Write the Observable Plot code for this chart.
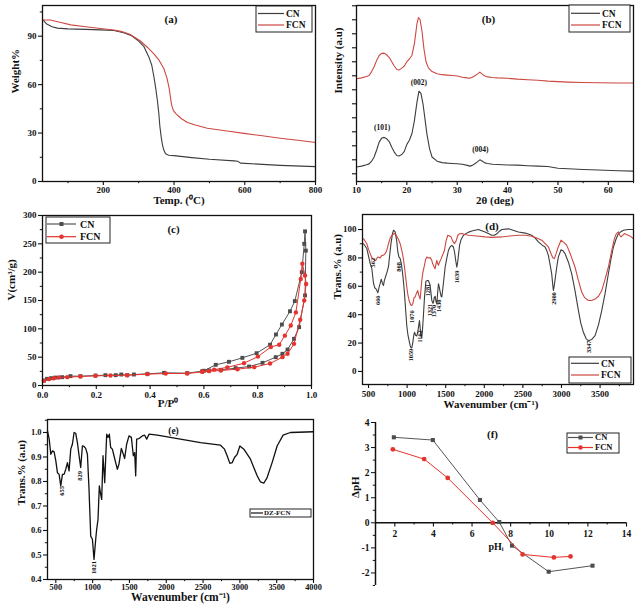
<!DOCTYPE html>
<html><head><meta charset="utf-8">
<script src="https://cdn.jsdelivr.net/npm/d3@7"></script>
<script src="https://cdn.jsdelivr.net/npm/@observablehq/plot@0.6"></script>
<style>
body{margin:0;background:#fff;}
#fig{position:relative;width:637px;height:606px;overflow:hidden;background:#fff;}
</style></head><body><div id="fig"></div>
<script>
const FONT = '"Liberation Serif","Times New Roman",serif';
const CN_LINE = "#3d3d3d", FCN_LINE = "#cc4842";
const CN_MARK = "#4d4d4d", FCN_MARK = "#e5332e";

// ---------- (a) TGA ----------
const tgaTempCN = [30,40,55,70,100,150,192,230,260,280,300,315,329,337,343,348,353,357,360,364,367,371,376,385,400,450,500,570,580,588,650,700,800];
const tgaWeightCN = [100,97.5,95.8,95,94.5,94.2,93.9,93.5,92,90.2,87,83.5,77,72,65,58,50,42,34,27,23,19.5,17.2,16.3,16,14.8,13.8,12.8,12.5,11.4,10.6,10,9.2];
const tgaTempFCN = [30,50,80,108,150,192,230,250,275,305,325,343,358,371,380,386,390,393,398,405,420,438,460,494,550,598,650,700,750,800];
const tgaWeightFCN = [100,100,98.5,97,95.8,94.8,93.8,93,91.2,87,83,79,75,70,64,58,52,47.5,44,42,39,36.5,35,33,31.3,29.8,28.3,26.8,25.5,24.2];
const aXTicks = [200,400,600,800];
const aYTicks = [0,30,60,90];

// ---------- (b) XRD ----------
const xrdAngleCN = [10,11,12,12.5,13,13.5,14,14.5,15,15.5,16,16.5,17,17.5,18,18.5,19,19.5,20,20.5,21,21.5,22,22.4,22.8,23.2,23.6,24,24.5,25,26,27,28,29,30,31,32,32.5,33,33.5,34,34.5,35,35.5,36,37,38,40,42,44,46,48,50,52,55,58,62,65];
const xrdIntCN = [0.48,0.55,0.65,0.71,0.9,1.2,1.7,2.26,2.55,2.6,2.5,2.3,1.9,1.55,1.31,1.28,1.38,1.6,2.1,2.4,2.86,3.8,5.1,5.9,5.75,5.0,3.9,2.8,1.8,1.2,0.9,0.8,0.76,0.74,0.72,0.68,0.6,0.55,0.6,0.72,0.85,1.0,0.9,0.78,0.74,0.68,0.66,0.63,0.62,0.58,0.55,0.52,0.4,0.36,0.31,0.27,0.22,0.19];
const xrdAngleFCN = [10,11,12,12.5,13,13.5,14,14.5,15,15.5,16,16.5,17,17.5,18,18.5,19,19.5,20,20.5,21,21.5,22,22.3,22.6,23,23.4,23.8,24.3,25,26,27,28,29,30,31,32,32.5,33,33.5,34,34.5,35,35.5,36,37,38,40,42,44,46,48,50,52,55,58,62,65];
const xrdIntFCN = [6.79,6.85,6.95,7.02,7.3,7.65,8.1,8.45,8.6,8.62,8.5,8.3,8.0,7.7,7.45,7.42,7.55,7.7,8.0,8.2,8.45,9.3,10.7,11.15,11.05,10.2,8.9,8.0,7.55,7.3,7.15,7.08,7.05,7.02,6.98,6.9,6.85,6.83,6.9,7.0,7.12,7.26,7.1,6.98,6.92,6.88,6.85,6.82,6.76,6.72,6.68,6.62,6.58,6.55,6.52,6.5,6.49,6.48];
const xrdPeakLabels = ["(101)","(002)","(004)"];
const xrdPeakAngle = [15.1,22.4,34.6];
const xrdPeakInt = [2.98,6.2,1.43];
const bXTicks = [10,20,30,40,50,60];

// ---------- (c) BET ----------
const betPCN = [0.005,0.017,0.032,0.048,0.073,0.104,0.141,0.197,0.234,0.272,0.293,0.315,0.34,0.39,0.452,0.538,0.594,0.619,0.663,0.718,0.768,0.818,0.867,0.892,0.911,0.935,0.954,0.976,0.979,0.976,0.973,0.964,0.938,0.92,0.89,0.868,0.846,0.796,0.743,0.693,0.644,0.6];
const betVCN = [8.8,11.8,12.9,14,14.7,16.5,16.5,17.6,18.2,18.2,19.4,18.2,19.4,20.6,22.4,21.8,25.3,26.5,27.6,30.6,33.5,40,50,55.9,63.5,82.4,103,159,238,272,250,200,149,131,107.6,90,72,57,48.8,41.8,36.5,26];
const betPFCN = [0.005,0.024,0.042,0.061,0.092,0.141,0.197,0.253,0.315,0.39,0.458,0.538,0.594,0.619,0.663,0.725,0.787,0.846,0.892,0.911,0.935,0.958,0.973,0.98,0.976,0.966,0.96,0.942,0.923,0.901,0.88,0.849,0.801,0.749,0.687,0.638,0.594];
const betVFCN = [8.2,11.2,12.9,14.1,14.7,15.9,17,17.6,18.2,20,21.2,21.2,24,25.3,26.5,28.8,32.4,38.8,50,56,73.5,116,150,179,194,215,188,129,106,88,72,68,51,39.4,32,28,25];
const cXTicks = [0,0.2,0.4,0.6,0.8,1.0];
const cYTicks = [0,50,100,150,200,250,300];

// ---------- (d) FTIR ----------
const ftirWaveCN = [435,478,522,543,565,580,600,621,640,651,665,680,694,705,716,740,759,780,793,810,824,845,865,880,895,910,925,940,955,966,980,996,1010,1026,1040,1052,1062,1074,1085,1096,1110,1126,1138,1147,1160,1170,1180,1190,1200,1212,1225,1243,1260,1277,1298,1310,1320,1335,1342,1352,1363,1375,1385,1395,1406,1418,1428,1440,1450,1470,1493,1515,1536,1560,1579,1600,1615,1630,1644,1655,1665,1680,1700,1730,1790,1838,1924,2010,2060,2097,2130,2162,2200,2226,2313,2442,2530,2615,2660,2701,2750,2787,2810,2830,2850,2873,2885,2895,2905,2915,2925,2945,2960,2994,3020,3046,3090,3132,3175,3219,3250,3284,3320,3349,3390,3435,3480,3522,3565,3608,3640,3673,3705,3737,3770,3802,3860,3931];
const ftirTransCN = [90,86.6,76,72.4,62,59,58,55.5,60,62,65,62,60.6,64,66,70,74,85,91,97,99.5,98.3,92,84,80.5,79.5,76,70,62,55,44,32,26,21.7,18,16.5,17,20.5,25,27.6,25.5,25,28,31,35.8,30,25,24,30,40,52,63.5,64,64,60.6,55,50,48,48.8,52,53,49,47.6,55,61.8,59,56,53,52.5,62,73.6,80,85.4,88,88.9,87.7,84,78,73.5,77,82,89,93,96,98,99,100,98.3,97,96,96,97,99,100,100.5,98.3,97.5,96,94,91.3,89,87.7,85,81.8,76,68.9,62,57,60,64,68,76,80.7,85.8,85,83,77,69,57,43,34,27.6,23,21.7,22.5,25.2,33,43,55,69,79,87.7,93,97,98.5,99.5,100,100];
const ftirWaveFCN = [435,478,500,522,545,565,580,595,610,625,650,673,695,716,740,759,780,802,837,860,888,910,931,950,966,980,996,1010,1026,1045,1061,1075,1090,1104,1120,1138,1150,1169,1180,1190,1205,1225,1240,1256,1275,1298,1320,1330,1342,1355,1363,1375,1385,1395,1406,1420,1441,1460,1484,1505,1527,1550,1570,1590,1613,1635,1657,1680,1709,1750,1795,1900,2010,2100,2226,2330,2442,2530,2615,2680,2744,2790,2830,2850,2873,2890,2908,2930,2951,2994,3030,3067,3120,3175,3220,3262,3300,3349,3390,3435,3480,3522,3565,3608,3650,3686,3710,3737,3755,3772,3795,3815,3840,3867,3900,3931];
const ftirTransFCN = [93.6,90,86,83,80,79.5,78,78.3,80,80.7,80,81.8,82,83,86,90,94,96,97.2,96,93,90,85.4,80,73.6,67,59.4,54,50,47,46.5,48,52,52.4,55,57,54,51,58,64,70,75,79,80.7,80,80.2,78.3,76,74.8,73,72.4,76,78.3,76,74.8,77,79.5,82,85.4,92,96,95.5,94.8,92,90,92,96,97,97.2,96.5,96,95.5,94.8,94.5,94.8,95.5,96,96,95.3,94,92.5,90,87.7,85,81.8,80,79.5,83,86.6,92.5,91,89,82,73.6,64,56,52,50,50,51,53,57,65,73.6,85,93.6,97,98.3,96,94.8,96,97.2,96.5,96,95,93.6];
const ftirPeakLabels = ["562","666","808","1059","1076","1162","1281","1321","1370","1430","1639","2900","3347"];
const ftirPeakWave = [560,620,893,1044,1060,1165,1273,1293,1352,1416,1649,2900,3353];
const ftirPeakTrans = [80,53.5,77,16,43,29,61.8,47.7,47,50.7,71,55.8,21.8];
const dXTicks = [500,1000,1500,2000,2500,3000,3500];
const dYTicks = [0,20,40,60,80,100];

// ---------- (e) FTIR DZ-FCN ----------
const dzWave = [387,410,432,455,477,500,522,545,567,590,612,635,658,680,703,725,748,770,793,816,838,861,883,906,929,951,974,997,1019,1042,1055,1073,1091,1109,1123,1141,1164,1191,1209,1227,1245,1268,1290,1313,1336,1358,1390,1417,1435,1462,1494,1526,1553,1571,1585,1598,1630,1675,1707,1734,1766,1879,2466,2737,2791,2827,2864,2896,2927,2963,3000,3054,3144,3235,3280,3325,3370,3438,3506,3587,3686,4000];
const dzTrans = [1.007,0.973,0.911,0.925,0.921,0.884,0.836,0.829,0.782,0.829,0.829,0.85,0.877,0.843,0.932,0.952,1.0,0.997,0.959,0.905,0.857,0.945,0.943,0.935,0.911,0.768,0.577,0.564,0.482,0.564,0.605,0.645,0.782,0.748,0.727,0.905,0.795,0.993,0.98,0.993,0.939,0.932,0.905,0.877,0.85,0.871,0.935,0.911,0.894,0.952,0.986,0.98,0.905,0.918,0.823,0.973,0.975,0.986,0.989,0.973,0.993,0.989,0.959,0.948,0.932,0.905,0.874,0.877,0.898,0.911,0.945,0.932,0.891,0.823,0.798,0.793,0.816,0.877,0.945,0.989,1.0,1.003];
const dzPeakLabels = ["655","829","1021"];
const dzPeakWave = [577,829,1019];
const dzPeakTrans = [0.782,0.843,0.475];
const eXTicks = [500,1000,1500,2000,2500,3000,3500,4000];
const eYTicks = [0.4,0.5,0.6,0.7,0.8,0.9,1.0];

// ---------- (f) pHpzc ----------
const pzcPhiCN = [1.95,3.97,6.41,7.41,8.07,9.97,12.24];
const pzcDeltaCN = [3.41,3.30,0.91,0.03,-0.91,-1.95,-1.71];
const pzcPhiFCN = [1.9,3.52,4.74,7.07,8.62,10.24,11.1];
const pzcDeltaFCN = [2.93,2.54,1.79,0,-1.26,-1.38,-1.34];
const fXTicks = [2,4,6,8,10,12,14];
const fYTicks = [-2,-1,0,1,2,3,4];

// ---------- helpers ----------
const pts = (xs, ys) => xs.map((x, i) => ({x, y: ys[i]}));
const fig = document.getElementById("fig");
function place(el, left, top) {
  el.style.position = "absolute"; el.style.left = left + "px"; el.style.top = top + "px";
  el.style.overflow = "visible"; fig.appendChild(el);
}
const style = {fontFamily: FONT, fontSize: "9px", fontWeight: "bold", color: "#111", background: "transparent", overflow: "visible"};
const minorOf = (lo, hi, step) => d3.range(lo, hi + step / 2, step);
const plain = d => String(d);
function boxAxes({xMaj, xMin, yMaj, yMin, xFmt = plain, yFmt = plain, yText = true, xFont = 9, yFont = 9, xPad = 2}) {
  return [
    Plot.axisX({ticks: xMaj, tickSize: 4, tickPadding: xPad, tickFormat: xFmt, label: null, fontSize: xFont, strokeWidth: 1.1}),
    Plot.axisX({ticks: xMin, tickSize: 2.2, tickFormat: () => "", label: null}),
    Plot.axisY({ticks: yMaj, tickSize: 4, tickPadding: 2, tickFormat: yText ? yFmt : () => "", label: null, fontSize: yFont, strokeWidth: 1.1}),
    Plot.axisY({ticks: yMin, tickSize: 2.2, tickFormat: () => "", label: null})
  ];
}
const frame = () => Plot.frame({stroke: "#111", strokeWidth: 1.3});
const label = (txt, o) => Plot.text([txt], {text: d => d, fontWeight: "bold", fill: "#111", fontFamily: FONT, ...o});
function legend(box, items, o) {
  return () => {
    const g = d3.create("svg:g").attr("font-family", FONT).attr("text-anchor", "start");
    g.append("rect").attr("x", box.x).attr("y", box.y).attr("width", box.w).attr("height", box.h)
      .attr("fill", "#fff").attr("stroke", "#222").attr("stroke-width", 1);
    items.forEach((it, i) => {
      const y = box.y + o.rows[i];
      g.append("line").attr("x1", box.x + o.l1).attr("x2", box.x + o.l2).attr("y1", y).attr("y2", y)
        .attr("stroke", it.color).attr("stroke-width", 1.2);
      const cx = box.x + (o.l1 + o.l2) / 2;
      if (it.symbol === "square") g.append("rect").attr("x", cx - 2).attr("y", y - 2).attr("width", 4).attr("height", 4).attr("fill", it.mark);
      if (it.symbol === "circle") g.append("circle").attr("cx", cx).attr("cy", y).attr("r", 2.3).attr("fill", it.mark);
      g.append("text").attr("x", box.x + o.tx).attr("y", y).attr("dy", "0.35em").attr("font-size", o.fs)
        .attr("text-anchor", "start").attr("font-weight", "bold").attr("fill", "#111").text(it.label);
    });
    return g.node();
  };
}

// ---------- (a) ----------
place(Plot.plot({
  width: 318, height: 200, marginLeft: 42, marginRight: 3, marginTop: 5, marginBottom: 19, style,
  x: {domain: [28, 800]}, y: {domain: [0, 109]},
  marks: [
    ...boxAxes({xMaj: aXTicks, xMin: minorOf(100, 700, 200), yMaj: aYTicks, yMin: minorOf(15, 105, 30), xPad: 1}),
    Plot.line(pts(tgaTempCN, tgaWeightCN), {x: "x", y: "y", stroke: CN_LINE, strokeWidth: 1.1}),
    Plot.line(pts(tgaTempFCN, tgaWeightFCN), {x: "x", y: "y", stroke: FCN_LINE, strokeWidth: 1.1}),
    frame(),
    label("(a)", {frameAnchor: "top", dx: -8, dy: 10, fontSize: 11}),
    label("Weight%", {frameAnchor: "left", dx: -27, rotate: -90, fontSize: 11}),
    label("Temp. (⁰C)", {frameAnchor: "bottom", dy: 22.5, fontSize: 11}),
    legend({x: 256, y: 6, w: 56, h: 26}, [{label: "CN", color: CN_LINE}, {label: "FCN", color: FCN_LINE}], {rows: [7.5, 19], l1: 2, l2: 28, tx: 30, fs: 9.5})
  ]
}), 0, 0);

// ---------- (b) ----------
place(Plot.plot({
  width: 319, height: 200, marginLeft: 38, marginRight: 4, marginTop: 5, marginBottom: 19, style,
  x: {domain: [10, 65]}, y: {domain: [-0.55, 12.02]},
  marks: [
    ...boxAxes({xMaj: bXTicks, xMin: minorOf(15, 65, 10), yMaj: d3.range(0, 13), yMin: [], yText: false, xPad: 1}),
    Plot.line(pts(xrdAngleCN, xrdIntCN), {x: "x", y: "y", stroke: CN_LINE, strokeWidth: 1.1}),
    Plot.line(pts(xrdAngleFCN, xrdIntFCN), {x: "x", y: "y", stroke: FCN_LINE, strokeWidth: 1.1}),
    Plot.text(xrdPeakLabels, {x: (d, i) => xrdPeakAngle[i], y: (d, i) => xrdPeakInt[i], text: d => d, fontSize: 7.5, fontWeight: "bold", fill: "#111", dy: -4}),
    frame(),
    label("(b)", {frameAnchor: "top", dx: -6.5, dy: 10, fontSize: 11}),
    label("Intensity (a.u)", {frameAnchor: "left", dx: -18, rotate: -90, fontSize: 11}),
    label("2θ (deg)", {frameAnchor: "bottom", dy: 22.5, fontSize: 11}),
    legend({x: 251, y: 5, w: 61, h: 27}, [{label: "CN", color: CN_LINE}, {label: "FCN", color: FCN_LINE}], {rows: [8.3, 20], l1: 2, l2: 31, tx: 33, fs: 9.5})
  ]
}), 318, 0);

// ---------- (c) ----------
place(Plot.plot({
  width: 318, height: 210, marginLeft: 42, marginRight: 7, marginTop: 15, marginBottom: 25, style,
  x: {domain: [0, 1]}, y: {domain: [0, 300]},
  marks: [
    ...boxAxes({xMaj: cXTicks, xMin: minorOf(0.1, 0.9, 0.2), yMaj: cYTicks, yMin: minorOf(25, 275, 50), xFmt: d3.format(".1f")}),
    Plot.line(pts(betPCN, betVCN), {x: "x", y: "y", stroke: "#555", strokeWidth: 1}),
    Plot.dot(pts(betPCN, betVCN), {x: "x", y: "y", symbol: "square", r: 2.2, fill: CN_MARK}),
    Plot.line(pts(betPFCN, betVFCN), {x: "x", y: "y", stroke: FCN_MARK, strokeWidth: 1}),
    Plot.dot(pts(betPFCN, betVFCN), {x: "x", y: "y", r: 2.2, fill: FCN_MARK}),
    frame(),
    label("(c)", {frameAnchor: "top", dx: -3.5, dy: 10, fontSize: 11}),
    label("V(cm³/g)", {frameAnchor: "left", dx: -31, rotate: -90, fontSize: 11}),
    label("P/P⁰", {frameAnchor: "bottom", dx: -9, dy: 21, fontSize: 11}),
    legend({x: 46, y: 17, w: 64, h: 26}, [{label: "CN", color: "#555", symbol: "square", mark: CN_MARK}, {label: "FCN", color: FCN_MARK, symbol: "circle", mark: FCN_MARK}], {rows: [7, 19.7], l1: 1, l2: 30, tx: 34, fs: 10})
  ]
}), 0, 200);

// ---------- (d) ----------
place(Plot.plot({
  width: 319, height: 210, marginLeft: 44, marginRight: 4, marginTop: 14, marginBottom: 26, style,
  x: {domain: [422, 3933]}, y: {domain: [-9.2, 110.6]},
  marks: [
    ...boxAxes({xMaj: dXTicks, xMin: minorOf(750, 3750, 500), yMaj: dYTicks, yMin: minorOf(10, 90, 20)}),
    Plot.line(pts(ftirWaveCN, ftirTransCN), {x: "x", y: "y", stroke: CN_LINE, strokeWidth: 1.1}),
    Plot.line(pts(ftirWaveFCN, ftirTransFCN), {x: "x", y: "y", stroke: FCN_LINE, strokeWidth: 1.1}),
    Plot.text(ftirPeakLabels, {x: (d, i) => ftirPeakWave[i], y: (d, i) => ftirPeakTrans[i], text: d => d, rotate: -90, textAnchor: "end", fontSize: 6.3, fontWeight: "bold", fill: "#111"}),
    frame(),
    label("(d)", {frameAnchor: "top", dx: -6, dy: 8, fontSize: 11}),
    label("Trans.% (a.u)", {frameAnchor: "left", dx: -25, rotate: -90, fontSize: 11}),
    label("Wavenumber (cm⁻¹)", {frameAnchor: "bottom", dx: -7, dy: 23, fontSize: 11}),
    legend({x: 251, y: 157, w: 62, h: 26}, [{label: "CN", color: CN_LINE}, {label: "FCN", color: FCN_LINE}], {rows: [6.3, 18], l1: 2, l2: 30, tx: 32, fs: 9.5})
  ]
}), 318, 200);

// ---------- (e) ----------
place(Plot.plot({
  width: 318, height: 196, marginLeft: 47, marginRight: 5, marginTop: 9, marginBottom: 27, style,
  x: {domain: [387, 4000]}, y: {domain: [0.4, 1.053]},
  marks: [
    ...boxAxes({xMaj: eXTicks, xMin: minorOf(750, 3750, 500), yMaj: eYTicks, yMin: minorOf(0.45, 1.05, 0.1), yFmt: d3.format(".1f"), xFont: 8.3, yFont: 8.5, xPad: 0.5}),
    Plot.line(pts(dzWave, dzTrans), {x: "x", y: "y", stroke: "#111", strokeWidth: 1.3}),
    Plot.text(dzPeakLabels, {x: (d, i) => dzPeakWave[i], y: (d, i) => dzPeakTrans[i], text: d => d, rotate: -90, textAnchor: "end", fontSize: 6.5, fontWeight: "bold", fill: "#111"}),
    frame(),
    label("(e)", {frameAnchor: "top", dx: -7, dy: 8, fontSize: 9.5}),
    label("Trans.% (a.u)", {frameAnchor: "left", dx: -26, dy: 6, rotate: -90, fontSize: 11}),
    label("Wavenumber (cm⁻¹)", {frameAnchor: "bottom", dy: 21.5, fontSize: 11.5}),
    legend({x: 250, y: 99, w: 61, h: 8}, [{label: "DZ-FCN", color: "#111"}], {rows: [4], l1: 1, l2: 13, tx: 14, fs: 7})
  ]
}), 0, 410);

// ---------- (f) ----------
place(Plot.plot({
  width: 319, height: 196, marginLeft: 57, marginRight: 11, marginTop: 12, marginBottom: 21, style,
  x: {domain: [1, 14], axis: null}, y: {domain: [-2.5, 4]},
  marks: [
    Plot.axisY({ticks: fYTicks, tickSize: 4, tickPadding: 2, tickFormat: plain, label: null, fontSize: 9.5}),
    Plot.axisY({ticks: minorOf(-2.5, 3.5, 1), tickSize: 2.2, tickFormat: () => "", label: null}),
    Plot.ruleX([1], {stroke: "#111", strokeWidth: 1.5}),
    Plot.ruleY([0], {stroke: "#111", strokeWidth: 1.5}),
    Plot.ruleX(fXTicks, {x: d => d, y1: 0, y2: -0.17, stroke: "#111", strokeWidth: 1.1}),
    Plot.ruleX(minorOf(3, 13, 2), {x: d => d, y1: 0, y2: -0.09, stroke: "#111"}),
    Plot.text(fXTicks, {x: d => d, y: 0, dy: 11, text: plain, fontSize: 9.5, fontWeight: "bold", fill: "#111"}),
    Plot.line(pts(pzcPhiCN, pzcDeltaCN), {x: "x", y: "y", stroke: "#555", strokeWidth: 1}),
    Plot.dot(pts(pzcPhiCN, pzcDeltaCN), {x: "x", y: "y", symbol: "square", r: 2.3, fill: CN_MARK}),
    Plot.line(pts(pzcPhiFCN, pzcDeltaFCN), {x: "x", y: "y", stroke: FCN_MARK, strokeWidth: 1}),
    Plot.dot(pts(pzcPhiFCN, pzcDeltaFCN), {x: "x", y: "y", r: 2.4, fill: FCN_MARK}),
    label("(f)", {frameAnchor: "top", dx: -8.5, dy: 8, fontSize: 11}),
    label("ΔpH", {frameAnchor: "left", dx: -20, dy: -6, rotate: -90, fontSize: 11}),
    label("pHᵢ", {frameAnchor: "top-left", dx: 113, dy: 120, fontSize: 10}),
    legend({x: 249, y: 23, w: 52, h: 20}, [{label: "CN", color: "#555", symbol: "square", mark: CN_MARK}, {label: "FCN", color: FCN_MARK, symbol: "circle", mark: FCN_MARK}], {rows: [4.5, 14.5], l1: 1, l2: 26, tx: 28, fs: 8.5})
  ]
}), 318, 410);
</script></body></html>
